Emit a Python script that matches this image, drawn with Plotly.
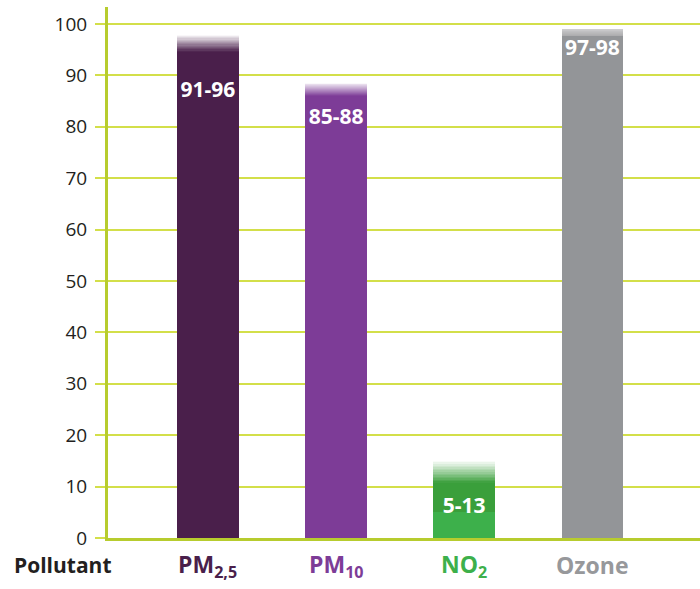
import plotly.graph_objects as go

# =========================
# DATA
# =========================
pollutants = ["PM2,5", "PM10", "NO2", "Ozone"]
tick_labels = ["PM<sub>2,5</sub>", "PM<sub>10</sub>", "NO<sub>2</sub>", "Ozone"]
range_low = [91, 85, 5, 97]
range_high = [96, 88, 13, 98]
solid_top = [94.6, 86.0, 10.7, 97.7]   # where the solid part of the bar stops
fade_top = [97.9, 88.6, 15.0, 99.0]    # where the faded top disappears
label_y = [86.8, 81.5, 5.8, 95.0]

# =========================
# STYLE
# =========================
base_colors = ["#4a1f4b", "#7d3c97", "#3db04b", "#939598"]
range_rgb = [(74, 31, 75), (125, 60, 151), (58, 159, 59), (147, 149, 152)]
fade_rgb = [(74, 31, 75), (125, 60, 151), (58, 159, 59), (172, 172, 174)]
fade_end_alpha = [0.0, 0.0, 0.0, 0.6]
text_colors = ["#4a1f4b", "#7d3c97", "#3db04b", "#97989b"]
grid_col = "#d3df4a"
axis_col = "#b7cc2e"
BAR_W = 0.48
N_FADE = 14

fig = go.Figure()

# solid lower part 0 -> low
fig.add_trace(go.Bar(
    x=pollutants, y=range_low, base=[0] * 4, width=BAR_W,
    marker=dict(color=base_colors, line=dict(width=0)), hoverinfo="skip",
))
# solid range part low -> solid_top
fig.add_trace(go.Bar(
    x=pollutants,
    y=[max(s - l, 0) for s, l in zip(solid_top, range_low)],
    base=[min(l, s) for l, s in zip(range_low, solid_top)],
    width=BAR_W,
    marker=dict(color=[f"rgb{c}" for c in range_rgb], line=dict(width=0)),
    hoverinfo="skip",
))
# faded top, drawn as thin slices
for k in range(N_FADE):
    t0 = k / N_FADE
    t1 = (k + 1) / N_FADE
    bases, heights, cols = [], [], []
    for i in range(len(pollutants)):
        lo = solid_top[i] + (fade_top[i] - solid_top[i]) * t0
        hi = solid_top[i] + (fade_top[i] - solid_top[i]) * t1
        a = 1 - (1 - fade_end_alpha[i]) * (t0 + t1) / 2
        r, g, b = fade_rgb[i]
        bases.append(lo)
        heights.append(hi - lo)
        cols.append(f"rgba({r},{g},{b},{a:.3f})")
    fig.add_trace(go.Bar(
        x=pollutants, y=heights, base=bases, width=BAR_W,
        marker=dict(color=cols, line=dict(width=0)), hoverinfo="skip",
    ))

# range labels inside bars
fig.add_trace(go.Scatter(
    x=pollutants, y=label_y, mode="text",
    text=[f"{l}-{h}" for l, h in zip(range_low, range_high)],
    textfont=dict(family="Open Sans", size=21, color="white", weight="bold"),
    hoverinfo="skip",
))

# category labels under the axis
for p, t, c in zip(pollutants, tick_labels, text_colors):
    fig.add_annotation(
        x=p, y=0, xref="x", yref="y", yshift=-27, yanchor="middle",
        text=f"<b>{t}</b>", showarrow=False,
        font=dict(family="Open Sans", size=23, color=c),
    )
fig.add_annotation(
    x=-(108 - 63) / 592, y=0, xref="x domain", yref="y",
    xanchor="center", yanchor="middle", yshift=-27,
    text="<b>Pollutant</b>", showarrow=False,
    font=dict(family="Open Sans", size=21, color="#231f20"),
)

fig.update_layout(
    width=700, height=589,
    margin=dict(l=108, r=0, t=7, b=51),
    plot_bgcolor="white", paper_bgcolor="white",
    showlegend=False, barmode="overlay", bargap=0,
    font=dict(family="Open Sans", size=19, color="#231f20"),
    xaxis=dict(
        range=[-0.78, 3.84], showticklabels=False, showgrid=False,
        showline=True, linecolor=axis_col, linewidth=3, zeroline=False,
        fixedrange=True,
    ),
    yaxis=dict(
        range=[0, 103.3], tickvals=[0, 10, 20, 30, 40, 50, 60, 70, 80, 90, 100],
        showgrid=True, gridcolor=grid_col, gridwidth=2,
        ticks="outside", ticklen=10, tickcolor=grid_col, tickwidth=2,
        showline=True, linecolor=axis_col, linewidth=3, zeroline=False,
        ticklabelstandoff=4,
        tickfont=dict(family="Open Sans", size=19, color="#231f20"),
        fixedrange=True,
    ),
)

fig.write_html(
    "out.html",
    config={"displayModeBar": False},
    post_script="document.body.style.margin='0';document.body.style.overflow='hidden';",
)
